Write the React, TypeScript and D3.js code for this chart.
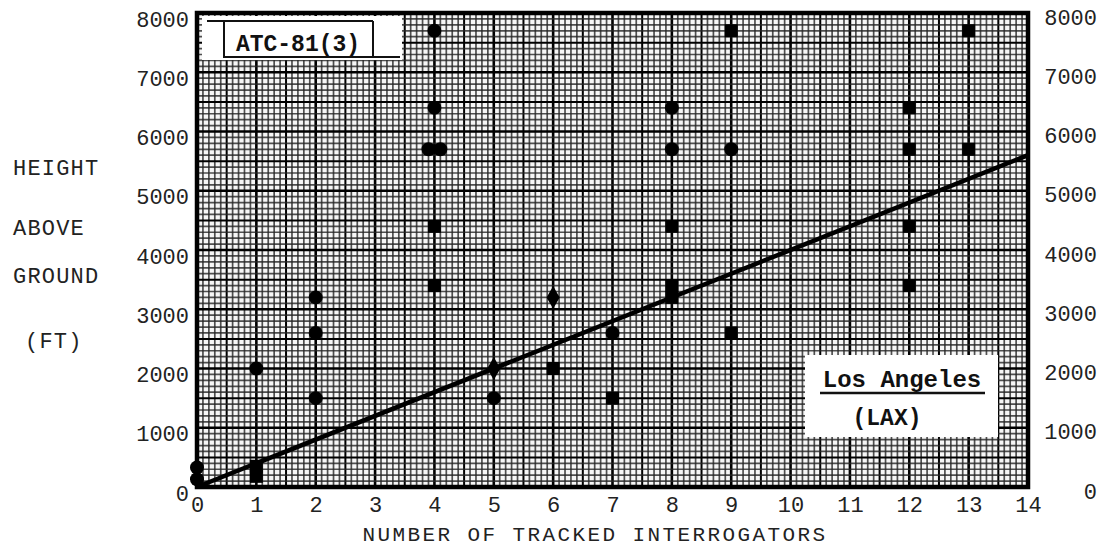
import React, { useEffect, useRef } from "react";
import * as d3 from "d3";

const W = 1103;
const H = 550;
const plot = { left: 197, right: 1028, top: 13, bottom: 487 };

// tick values
const xTickValues = d3.range(0, 15);
const yTickValues = [0, 1000, 2000, 3000, 4000, 5000, 6000, 7000, 8000];

// observed points, grouped by the marker that was typed on the paper
const circleInterrogators = [0, 0, 1, 2, 2, 2, 3.9, 4.1, 4, 4, 5, 7, 8, 8, 9];
const circleHeights = [330, 130, 2000, 3200, 2600, 1500, 5700, 5700, 7700, 6400, 1500, 2600, 6400, 5700, 5700];

const squareInterrogators = [1, 1, 4, 4, 6, 7, 8, 8, 8, 9, 9, 12, 12, 12, 12, 13, 13];
const squareHeights = [350, 180, 4400, 3400, 2000, 1500, 4400, 3400, 3200, 7700, 2600, 6400, 5700, 4400, 3400, 7700, 5700];

const diamondInterrogators = [5, 6];
const diamondHeights = [2000, 3200];

// fitted line
const fitInterrogators = [0, 14];
const fitHeights = [0, 5600];

const yTitleLines = ["HEIGHT", "ABOVE", "GROUND", "(FT)"];
const yTitleBaselines = [175, 235, 283, 348];

const mono = "'Liberation Mono', 'DejaVu Sans Mono', monospace";

export default function App() {
  const ref = useRef<SVGSVGElement>(null);

  useEffect(() => {
    const svg = d3.select(ref.current);
    svg.selectAll("*").remove();

    const x = d3.scaleLinear().domain([0, 14]).range([plot.left, plot.right]);
    const y = d3.scaleLinear().domain([0, 8000]).range([plot.bottom, plot.top]);

    svg.append("rect").attr("width", W).attr("height", H).attr("fill", "#fff");

    // graph paper
    const g = svg.append("g");
    g.append("rect")
      .attr("x", plot.left).attr("y", plot.top)
      .attr("width", plot.right - plot.left).attr("height", plot.bottom - plot.top)
      .attr("fill", "#f6f6f6");

    const xs = d3.range(0, 141).map(i => i / 10);
    const ys = d3.range(0, 81).map(i => i * 100);
    const weight = (i: number) => (i % 10 === 0 ? 2.6 : i % 5 === 0 ? 2 : 1.7);
    const tone = (i: number) => (i % 5 === 0 ? "#000" : "#262626");

    g.selectAll("line.vx").data(xs).join("line")
      .attr("x1", d => x(d)).attr("x2", d => x(d))
      .attr("y1", plot.top).attr("y2", plot.bottom)
      .attr("stroke", (d, i) => tone(i))
      .attr("stroke-width", (d, i) => weight(i))
      .attr("stroke-opacity", (d, i) => (i % 5 === 0 ? 1 : 0.8));

    g.selectAll("line.hy").data(ys).join("line")
      .attr("y1", d => y(d)).attr("y2", d => y(d))
      .attr("x1", plot.left).attr("x2", plot.right)
      .attr("stroke", (d, i) => tone(i))
      .attr("stroke-width", (d, i) => weight(i))
      .attr("stroke-opacity", (d, i) => (i % 5 === 0 ? 1 : 0.8));

    // white label boxes pasted over the paper
    svg.append("rect").attr("x", 202).attr("y", 16).attr("width", 200).attr("height", 44).attr("fill", "#fff");
    svg.append("rect").attr("x", 805).attr("y", 355).attr("width", 193).attr("height", 82).attr("fill", "#fff");

    // frame
    svg.append("rect")
      .attr("x", plot.left).attr("y", plot.top)
      .attr("width", plot.right - plot.left).attr("height", plot.bottom - plot.top)
      .attr("fill", "none").attr("stroke", "#000").attr("stroke-width", 4.5);

    // ATC box
    const box = svg.append("g").attr("stroke", "#111").attr("stroke-width", 2);
    box.append("line").attr("x1", 207).attr("x2", 373).attr("y1", 21).attr("y2", 21);
    box.append("line").attr("x1", 223).attr("x2", 400).attr("y1", 57).attr("y2", 57);
    box.append("line").attr("x1", 224).attr("x2", 224).attr("y1", 21).attr("y2", 57);
    box.append("line").attr("x1", 373).attr("x2", 373).attr("y1", 21).attr("y2", 57);
    svg.append("text").attr("x", 298).attr("y", 51)
      .attr("text-anchor", "middle")
      .style("font", `bold 23px ${mono}`)
      .attr("fill", "#111")
      .text("ATC-81(3)");

    // Los Angeles label
    svg.append("text").attr("x", 902).attr("y", 387)
      .attr("text-anchor", "middle")
      .style("font", `bold 24px ${mono}`)
      .attr("fill", "#111")
      .text("Los Angeles");
    svg.append("line").attr("x1", 820).attr("x2", 985).attr("y1", 393).attr("y2", 393)
      .attr("stroke", "#111").attr("stroke-width", 2.5);
    svg.append("text").attr("x", 887).attr("y", 425)
      .attr("text-anchor", "middle")
      .style("font", `bold 23px ${mono}`)
      .attr("fill", "#111")
      .text("(LAX)");

    // fitted line
    const fit = fitInterrogators.map((d, i) => [d, fitHeights[i]] as [number, number]);
    svg.append("path")
      .datum(fit)
      .attr("fill", "none")
      .attr("stroke", "#000")
      .attr("stroke-width", 4.5)
      .attr("d", d3.line().x(d => x(d[0])).y(d => y(d[1])));

    // markers
    const circles = circleInterrogators.map((d, i) => [d, circleHeights[i]]);
    svg.selectAll("circle.pt").data(circles).join("circle")
      .attr("cx", d => x(d[0])).attr("cy", d => y(d[1]))
      .attr("r", 7).attr("fill", "#000");

    const squares = squareInterrogators.map((d, i) => [d, squareHeights[i]]);
    svg.selectAll("rect.pt").data(squares).join("rect")
      .attr("x", d => x(d[0]) - 6.5).attr("y", d => y(d[1]) - 6.5)
      .attr("width", 13).attr("height", 13).attr("fill", "#000");

    const diamonds = diamondInterrogators.map((d, i) => [d, diamondHeights[i]]);
    svg.selectAll("path.pt").data(diamonds).join("path")
      .attr("transform", d => `translate(${x(d[0])},${y(d[1])})`)
      .attr("d", d3.symbol().type(d3.symbolDiamond).size(150))
      .attr("fill", "#000");

    // axes
    const axisFont = `22px ${mono}`;

    const left = svg.append("g")
      .attr("transform", `translate(${plot.left},6)`)
      .call(d3.axisLeft(y).tickValues(yTickValues).tickSize(0).tickPadding(8).tickFormat(d3.format("d")));
    left.select(".domain").remove();
    left.selectAll("text").style("font", axisFont).attr("fill", "#222");

    const right = svg.append("g")
      .attr("transform", `translate(${plot.right},4)`)
      .call(d3.axisRight(y).tickValues(yTickValues).tickSize(0).tickFormat(d3.format("d")));
    right.select(".domain").remove();
    right.selectAll("text").style("font", axisFont).attr("fill", "#222")
      .attr("text-anchor", "end").attr("x", 69);

    const bottom = svg.append("g")
      .attr("transform", `translate(0,${plot.bottom})`)
      .call(d3.axisBottom(x).tickValues(xTickValues).tickSize(0).tickPadding(9).tickFormat(d3.format("d")));
    bottom.select(".domain").remove();
    bottom.selectAll("text").style("font", axisFont).attr("fill", "#222");

    // titles
    svg.append("text").attr("x", 595).attr("y", 541)
      .attr("text-anchor", "middle")
      .style("font", `21px ${mono}`)
      .style("letter-spacing", "2.4px")
      .attr("fill", "#222")
      .text("NUMBER OF TRACKED INTERROGATORS");

    svg.selectAll("text.ytitle").data(yTitleLines).join("text")
      .attr("class", "ytitle")
      .attr("x", (d, i) => (i === 3 ? 25 : 13))
      .attr("y", (d, i) => yTitleBaselines[i])
      .style("font", `22px ${mono}`)
      .style("letter-spacing", "1.2px")
      .attr("fill", "#222")
      .text(d => d);
  }, []);

  return (
    <svg ref={ref} width={W} height={H} style={{ position: "absolute", left: 0, top: 0 }} />
  );
}
